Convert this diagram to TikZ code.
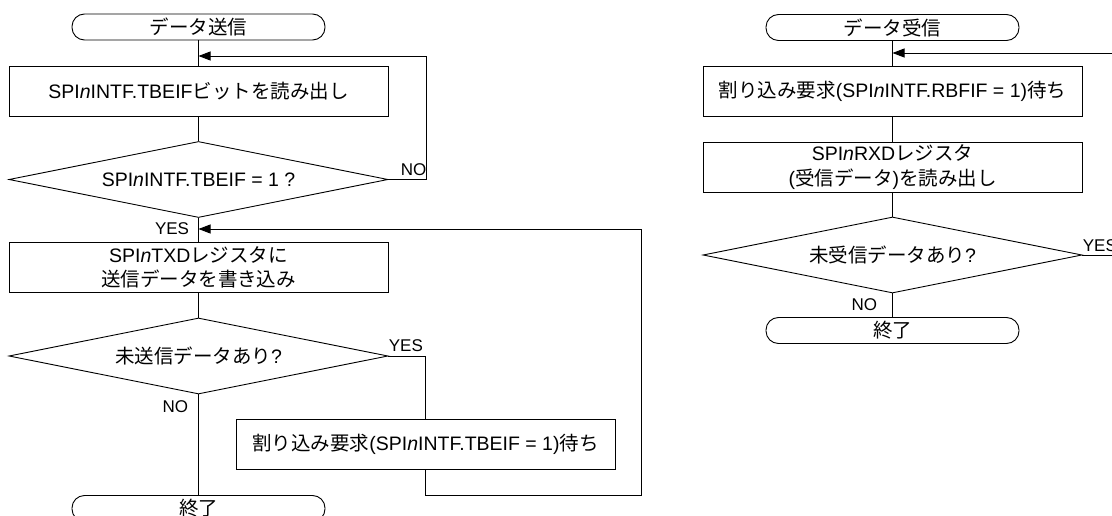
\documentclass[tikz,border=0pt]{standalone}
\usepackage{fontspec}
\setmainfont{Liberation Sans}
\newfontfamily\jpfont{Noto Sans CJK JP}
\newcommand{\jp}[1]{{\jpfont #1}}
\usetikzlibrary{arrows.meta,positioning,shapes.geometric}

\begin{document}
\begin{tikzpicture}[x=1pt,y=-1pt,>={Triangle[length=12pt,width=9pt]},line width=0.9pt,
  term/.style={draw,rectangle,rounded corners=12.5pt,minimum width=253pt,minimum height=26pt,inner sep=0pt,font=\fontsize{19.5}{24}\selectfont},
  proc/.style={draw,minimum width=379pt,minimum height=50pt,inner sep=0pt,align=center,font=\fontsize{19.5}{24.5}\selectfont},
  dec/.style={draw,diamond,aspect=5,minimum width=379pt,minimum height=76pt,inner sep=0pt,font=\fontsize{19.5}{24}\selectfont},
  lab/.style={inner sep=0pt,font=\fontsize{17}{19}\selectfont}]
\useasboundingbox (0,0) rectangle (1112,516);
\node[term] (s1) at (198.5,27) {\jp{データ送信}};
\node[proc] (r1) at (198.5,91) {SPI\textit{n}INTF.TBEIF\jp{ビットを読み出し}};
\node[dec] (d1) at (198.5,179.5) {SPI\textit{n}INTF.TBEIF = 1 ?};
\node[proc] (r2) at (198.5,267.5) {SPI\textit{n}TXD\jp{レジスタに}\\\jp{送信データを書き込み}};
\node[dec] (d2) at (198.5,356) {\jp{未送信データあり}?};
\node[proc] (r3) at (425.5,444.5) {\jp{割り込み要求}(SPI\textit{n}INTF.TBEIF = 1)\jp{待ち}};
\node[term] (e1) at (198.5,508.5) {\jp{終了}};
\coordinate (j1) at (198.5,56);
\coordinate (j2) at (198.5,229);
\coordinate (n1) at (426,179.5);
\coordinate (b3) at (641,495);
\draw (s1) -- (r1);
\draw (r1) -- (d1);
\draw (d1) -- (r2);
\draw (r2) -- (d2);
\draw (d2) -- (e1);
\draw (d2.east) -| (r3.north);
\draw[->] (d1.east) -- (n1) |- (j1);
\draw[->] (r3.south) |- (b3) |- (j2);
\node[lab,above right=3pt and 12pt of d1.east] {NO};
\node[lab,left=9pt of j2] {YES};
\node[lab,above right=4pt and 0pt of d2.east] {YES};
\node[lab,below left=6pt and 10pt of d2.south] {NO};
\node[term] (s2) at (892.5,27.5) {\jp{データ受信}};
\node[proc] (r4) at (892.5,91) {\jp{割り込み要求}(SPI\textit{n}INTF.RBFIF = 1)\jp{待ち}};
\node[proc] (r5) at (892.5,167) {SPI\textit{n}RXD\jp{レジスタ}\\(\jp{受信データ})\jp{を読み出し}};
\node[dec] (d3) at (892.5,255) {\jp{未受信データあり}?};
\node[term] (e2) at (892.5,330.5) {\jp{終了}};
\coordinate (j3) at (892.5,53);
\coordinate (n3) at (1125,53);
\draw (s2) -- (r4);
\draw (r4) -- (r5);
\draw (r5) -- (d3);
\draw (d3) -- (e2);
\draw[->] (d3.east) -| (n3) -- (j3);
\node[lab,above right=3pt and 0pt of d3.east] {YES};
\node[lab,below left=5pt and 15pt of d3.south] {NO};
\end{tikzpicture}
\end{document}
